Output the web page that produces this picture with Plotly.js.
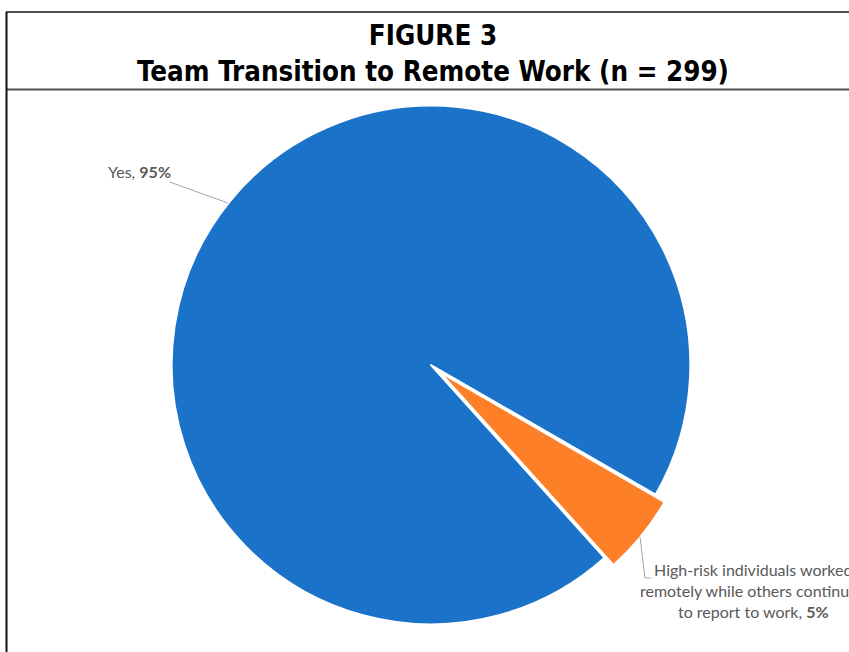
<!DOCTYPE html>
<html>
<head>
<meta charset="utf-8">
<script src="https://cdn.plot.ly/plotly-3.0.1.min.js"></script>
<style>html,body{margin:0;padding:0;background:#fff;}#chart{width:849px;height:652px;}</style>
</head>
<body>
<div id="chart"></div>
<script>
const categories = ["Yes", "High-risk individuals worked remotely while others continued to report to work"];
const labelLines = ["Yes", "High-risk individuals worked<br>remotely while others continued<br>to report to work"];
const percents = [95, 5];
const sliceColors = ["#1a73c9", "#fd7f28"];
const titleLine1 = "FIGURE 3";
const titleLine2 = "Team Transition to Remote Work (n = 299)";

const W = 849, H = 652;
const px = x => x / W;
const py = y => 1 - y / H;

const trace = {
  type: "pie",
  labels: categories,
  values: percents,
  sort: false,
  direction: "clockwise",
  rotation: 138,
  pull: [0, 0.045],
  marker: {colors: sliceColors, line: {color: "#ffffff", width: 2}},
  textinfo: "none",
  hoverinfo: "label+percent",
  showlegend: false,
  domain: {x: [px(160), px(702)], y: [py(636), py(94)]}
};

const labelFont = {family: "Lato, Open Sans, sans-serif", size: 16, color: "#595959"};

const layout = {
  width: W, height: H,
  margin: {l: 0, r: 0, t: 0, b: 0},
  paper_bgcolor: "#ffffff",
  showlegend: false,
  title: {
    text: "<b>" + titleLine1 + "</b><br><b>" + titleLine2 + "</b>",
    x: px(433), xanchor: "center", xref: "paper",
    y: py(45), yanchor: "middle", yref: "paper",
    font: {family: "DejaVu Sans Condensed, Liberation Sans Narrow, sans-serif", size: 27.5, color: "#000000"}
  },
  shapes: [
    {type: "line", xref: "paper", yref: "paper", x0: px(6), x1: 1.01, y0: py(12), y1: py(12), line: {color: "#505050", width: 2}},
    {type: "line", xref: "paper", yref: "paper", x0: px(6), x1: 1.01, y0: py(89.5), y1: py(89.5), line: {color: "#505050", width: 2}},
    {type: "line", xref: "paper", yref: "paper", x0: px(6.5), x1: px(6.5), y0: py(12), y1: -0.01, line: {color: "#111111", width: 2}},
    {type: "path", xref: "paper", yref: "paper",
     path: "M " + px(640) + "," + py(537) + " L " + px(645) + "," + py(578) + " L " + px(651) + "," + py(578),
     line: {color: "#a6a6a6", width: 1}}
  ],
  annotations: [
    {xref: "paper", yref: "paper", x: px(228), y: py(203), ax: -89, ay: -32,
     text: labelLines[0] + ", <b>" + percents[0] + "%</b>", showarrow: true, arrowhead: 0, arrowwidth: 1, arrowcolor: "#a6a6a6",
     font: labelFont, align: "right"},
    {xref: "paper", yref: "paper", x: px(753), y: py(590), xanchor: "center", yanchor: "middle",
     text: labelLines[1] + ", <b>" + percents[1] + "%</b>", showarrow: false, align: "center",
     font: labelFont}
  ]
};

Plotly.newPlot("chart", [trace], layout, {displayModeBar: false, staticPlot: true});
</script>
</body>
</html>
